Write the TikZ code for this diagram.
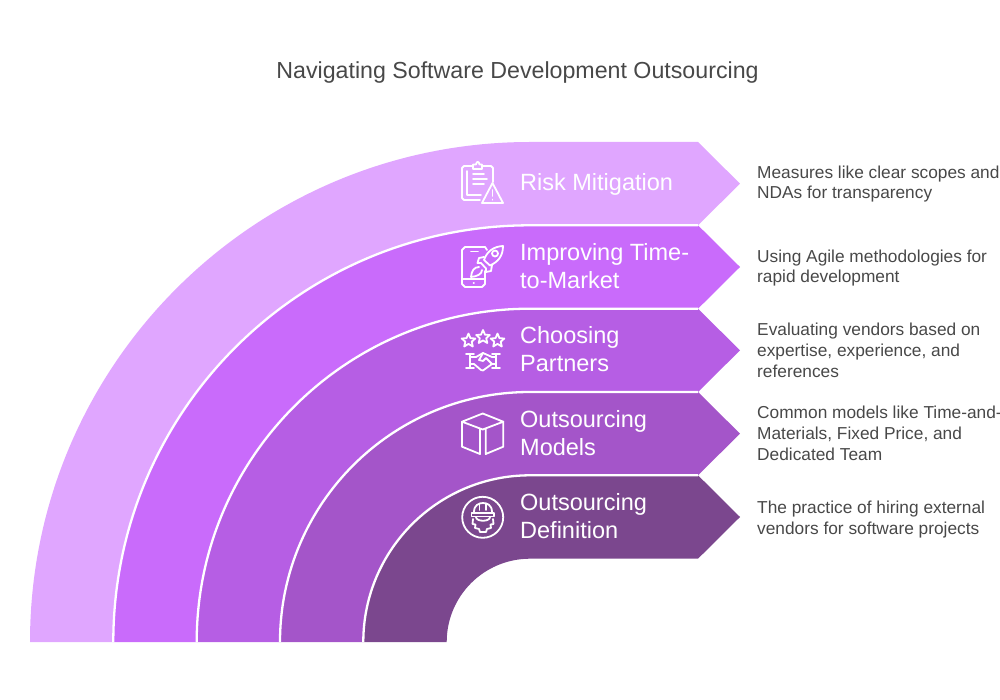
\documentclass[tikz,border=0pt]{standalone}
\usepackage{fontspec}
\setmainfont{Liberation Sans}
\definecolor{bandA}{HTML}{E0A6FF}
\definecolor{bandB}{HTML}{C96BFB}
\definecolor{bandC}{HTML}{B65EE4}
\definecolor{bandD}{HTML}{A455C9}
\definecolor{bandE}{HTML}{7B478E}
\definecolor{inkgrey}{HTML}{484848}
\tikzset{
  sep/.style={draw=white,line width=2.3pt},
  icon/.style={draw=white,line width=1.8pt,line join=round,line cap=round},
  headtext/.style={anchor=base west,text=white,align=left,inner sep=0pt,font=\fontsize{23.5}{27.8}\selectfont},
  bodytext/.style={anchor=base west,text=inkgrey,align=left,inner sep=0pt,font=\fontsize{17.3}{20.9}\selectfont},
}
% #1 outer radius, #2 inner radius, #3 colour
\newcommand{\bandshape}[3]{%
  \pgfmathsetmacro{\xo}{530-#1}\pgfmathsetmacro{\yo}{642-#1}%
  \pgfmathsetmacro{\xi}{530-#2}\pgfmathsetmacro{\yi}{642-#2}%
  \pgfmathsetmacro{\ym}{(\yo+\yi)/2}%
  \fill[#3] (\xo,642) arc[start angle=180,end angle=270,radius=#1] -- (698,\yo) -- (740,\ym) -- (698,\yi) -- (530,\yi)
    arc[start angle=270,end angle=180,radius=#2] -- cycle;
}
\newcommand{\bandsep}[1]{%
  \pgfmathsetmacro{\xo}{530-#1}\pgfmathsetmacro{\yo}{642-#1}%
  \draw[sep] (\xo,642) arc[start angle=180,end angle=270,radius=#1] -- (698,\yo);
}
\begin{document}
\begin{tikzpicture}[x=1pt,y=-1pt]
\useasboundingbox (0,0) rectangle (1000,700);
\bandshape{500}{416.7}{bandA}
\bandshape{416.7}{333.3}{bandB}
\bandshape{333.3}{250}{bandC}
\bandshape{250}{166.7}{bandD}
\bandshape{166.7}{83.3}{bandE}
\bandsep{416.7}\bandsep{333.3}\bandsep{250}\bandsep{166.7}

\node[anchor=base,inner sep=0pt,text=inkgrey,font=\fontsize{23.2}{27}\selectfont] (title) at (517.5,78.5) {Navigating Software Development Outsourcing};

\node[headtext] (h1) at (520,190.7) {Risk Mitigation};
\node[headtext] (h2) at (520,288) {Improving Time-\\to-Market};
\node[headtext] (h3) at (520,371.7) {Choosing\\Partners};
\node[headtext] (h4) at (520,455.5) {Outsourcing\\Models};
\node[headtext] (h5) at (520,538.7) {Outsourcing\\Definition};

\node[bodytext] (b1) at (757,199) {Measures like clear scopes and\\NDAs for transparency};
\node[bodytext] (b2) at (757,283) {Using Agile methodologies for\\rapid development};
\node[bodytext] (b3) at (757,377) {Evaluating vendors based on\\expertise, experience, and\\references};
\node[bodytext] (b4) at (757,460.5) {Common models like Time-and-\\Materials, Fixed Price, and\\Dedicated Team};
\node[bodytext] (b5) at (757,534) {The practice of hiring external\\vendors for software projects};

% risk icon
\draw[icon] (480,200) -- (464,200) -- (462,198) -- (462,168) -- (464,166) -- (473,166) (482,166) -- (491,166) -- (493,168) -- (493,182);
\draw[icon] (473,169) -- (473,164.5) -- (476,164.5) .. controls (476.5,161) and (479,161) .. (479.5,164.5) -- (482,164.5) -- (482,169) -- cycle;
\draw[icon] (467,171) -- (467,195) -- (481,195);
\draw[icon] (473,174) -- (484,174) (473,179) -- (487,179) (473,184) -- (484,184);
\draw[icon] (492.5,183) -- (503,203) -- (482,203) -- cycle;
\draw[icon] (492.5,190) -- (492.5,196) (492.5,199.5) -- (492.5,199.8);
% phone and rocket icon
\draw[icon] (480,247) -- (465,247) -- (462,250) -- (462,284) -- (465,287) -- (482,287) -- (485,284) -- (485,271);
\draw[icon] (480,247) -- (485,247) -- (487,250);
\draw[icon] (471,251.5) -- (478,251.5) (462,279) -- (485,279) (473.5,283) -- (474,283);
\draw[icon] (503,246) .. controls (494,246.5) and (487,251) .. (484,260) -- (490,265.5) .. controls (498,262) and (503,256) .. (503,246) -- cycle;
\draw[icon] (495,253.5) circle[radius=3];
\draw[icon] (484,257) -- (479,258) -- (477.5,263) -- (481,263);
\draw[icon] (492,265) -- (491,271) -- (486,272) -- (486,268.5);
\draw[icon] (481,263) -- (486,268.5);
\draw[icon] (479,267) .. controls (474,267) and (471.5,271) .. (471,277) .. controls (477,276.5) and (482,274) .. (482,270);
% stars and handshake icon
\foreach \cx/\cy in {468.5/340.5,483/337,497.5/340.5}{
  \draw[icon] (\cx,\cy-7) -- (\cx+2,\cy-2.3) -- (\cx+6.8,\cy-2) -- (\cx+3.2,\cy+1.2) -- (\cx+4.3,\cy+6) -- (\cx,\cy+3.4) -- (\cx-4.3,\cy+6) -- (\cx-3.2,\cy+1.2) -- (\cx-6.8,\cy-2) -- (\cx-2,\cy-2.3) -- cycle;
}
\draw[icon] (466,354) -- (474,354) (470,354) -- (470,368) (466,368) -- (474,368);
\draw[icon] (492,354) -- (500,354) (496,354) -- (496,368) (492,368) -- (500,368);
\draw[icon] (470,357) -- (476,357) -- (483,353) -- (492,357) -- (496,357);
\draw[icon] (470,364) -- (474,364) -- (481,370) -- (483,370.5) -- (492,364) -- (496,364);
\draw[icon] (483,353) -- (479,360) -- (483,361) -- (486,358) -- (492,364);
% box icon
\draw[icon] (462,421.7) -- (482.7,413.5) -- (503.3,421.7) -- (482.7,429.5) -- cycle;
\draw[icon] (462,421.7) -- (462,446.7) -- (480,454) -- (480,429);
\draw[icon] (485.7,429) -- (485.7,454) -- (503.3,446.7) -- (503.3,421.7);
% helmet and gear icon
\draw[icon] (482.7,517.3) circle[radius=20.5];
\draw[icon] (474,512) .. controls (474,505) and (479,503) .. (483,503) .. controls (487,503) and (492,505) .. (492,512);
\draw[icon] (479.5,503.5) -- (479.5,510) (486,503.5) -- (486,510);
\draw[icon] (471.5,513) -- (494,513) -- (494,516.5) -- (471.5,516.5) -- cycle;
\draw[icon] (476,517) .. controls (476,522) and (490,522) .. (490,517);
\draw[icon] (473,519) -- (472.5,524) -- (475.5,524.5) -- (475,528) -- (479,529) -- (480,532) -- (486,532) -- (487,529) -- (491,528) -- (490.5,524.5) -- (493.5,524) -- (493,519);
\end{tikzpicture}
\end{document}
